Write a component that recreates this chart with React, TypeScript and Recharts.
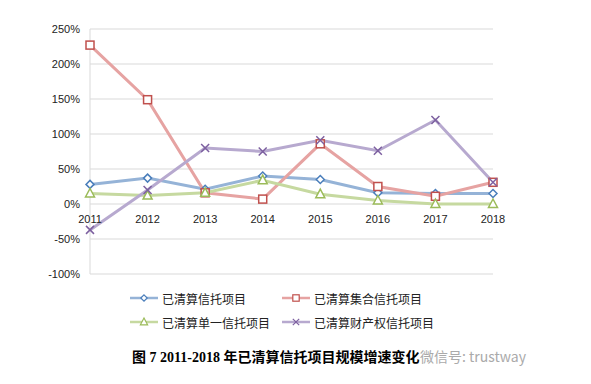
import React from "react";
import {
  LineChart,
  Line,
  XAxis,
  YAxis,
  CartesianGrid,
} from "recharts";

// 年份
const years = ["2011", "2012", "2013", "2014", "2015", "2016", "2017", "2018"];

// 增速（%）
const yiQingSuan = [28, 37, 21, 40, 35, 16, 15, 15];
const jiHe = [227, 149, 16, 7, 86, 25, 11, 31];
const danYi = [15, 12, 16, 34, 14, 5, 0, 0];
const caiChanQuan = [-37, 20, 80, 75, 91, 76, 120, 31];

const yTicks = [-100, -50, 0, 50, 100, 150, 200, 250];

const seriesNames = [
  "已清算信托项目",
  "已清算集合信托项目",
  "已清算单一信托项目",
  "已清算财产权信托项目",
];

const dados = years.map((year, i) => ({
  year,
  a: yiQingSuan[i],
  b: jiHe[i],
  c: danYi[i],
  d: caiChanQuan[i],
}));

type Shape = "diamond" | "square" | "triangle" | "cross";

const series: { key: string; name: string; line: string; mark: string; shape: Shape }[] = [
  { key: "a", name: seriesNames[0], line: "#95b3d7", mark: "#4a7ebb", shape: "diamond" },
  { key: "b", name: seriesNames[1], line: "#e6a3a2", mark: "#c0504d", shape: "square" },
  { key: "c", name: seriesNames[2], line: "#c6d9a0", mark: "#9bbb59", shape: "triangle" },
  { key: "d", name: seriesNames[3], line: "#b7a9cf", mark: "#7d60a0", shape: "cross" },
];

function Marker({ cx, cy, shape, color }: { cx: number; cy: number; shape: Shape; color: string }) {
  if (cx == null || cy == null) return null;
  const s = 4;
  if (shape === "diamond") {
    return (
      <path
        d={`M${cx},${cy - s} L${cx + s},${cy} L${cx},${cy + s} L${cx - s},${cy} Z`}
        fill="#fff"
        stroke={color}
        strokeWidth={1.5}
      />
    );
  }
  if (shape === "square") {
    return <rect x={cx - 4} y={cy - 4} width={8} height={8} fill="#fff" stroke={color} strokeWidth={1.5} />;
  }
  if (shape === "triangle") {
    return (
      <path
        d={`M${cx},${cy - 5} L${cx + 4.5},${cy + 3.5} L${cx - 4.5},${cy + 3.5} Z`}
        fill="#fff"
        stroke={color}
        strokeWidth={1.5}
      />
    );
  }
  return (
    <path
      d={`M${cx - 4},${cy - 4} L${cx + 4},${cy + 4} M${cx + 4},${cy - 4} L${cx - 4},${cy + 4}`}
      stroke={color}
      strokeWidth={1.5}
      fill="none"
    />
  );
}

function YearTick(props: any) {
  const { x, y, payload } = props;
  return (
    <text
      x={x}
      y={y - 51}
      textAnchor="middle"
      fontSize={11}
      fontFamily="'Liberation Sans', Arial, sans-serif"
      fill="#222"
    >
      {payload.value}
    </text>
  );
}

function LegendItem({ s }: { s: (typeof series)[number] }) {
  return (
    <div style={{ display: "flex", alignItems: "center", height: 16 }}>
      <svg width={28} height={12}>
        <line x1={0} x2={28} y1={6} y2={6} stroke={s.line} strokeWidth={2.5} />
        <g transform="translate(14,6) scale(0.8) translate(-14,-6)">
          <Marker cx={14} cy={6} shape={s.shape} color={s.mark} />
        </g>
      </svg>
      <span style={{ marginLeft: 4, fontSize: 12, color: "#222", whiteSpace: "nowrap" }}>{s.name}</span>
    </div>
  );
}

export default function App() {
  return (
    <div
      style={{
        position: "absolute",
        left: 0,
        top: 0,
        width: 591,
        height: 384,
        background: "#fff",
        fontFamily: "'Noto Sans CJK SC', sans-serif",
      }}
    >
      <LineChart
        width={591}
        height={290}
        data={dados}
        margin={{ top: 29, right: 98, left: 0, bottom: 15 }}
      >
        <CartesianGrid vertical={false} stroke="#d9d9d9" />
        <XAxis
          dataKey="year"
          axisLine={false}
          tickLine={false}
          tickSize={0}
          tickMargin={0}
          height={1}
          interval={0}
          tick={<YearTick />}
        />
        <YAxis
          width={90}
          domain={[-100, 250]}
          ticks={yTicks}
          interval={0}
          axisLine={{ stroke: "#d9d9d9" }}
          tickLine={false}
          tickSize={0}
          tickMargin={10}
          tickFormatter={(v: number) => `${v}%`}
          tick={{ fontSize: 11, fill: "#222", fontFamily: "'Liberation Sans', Arial, sans-serif" }}
        />
        {series.map((s) => (
          <Line
            key={s.key}
            dataKey={s.key}
            name={s.name}
            stroke={s.line}
            strokeWidth={3}
            isAnimationActive={false}
            dot={(p: any) => <Marker key={`${s.key}-${p.index}`} cx={p.cx} cy={p.cy} shape={s.shape} color={s.mark} />}
            activeDot={false}
          />
        ))}
      </LineChart>

      <div style={{ position: "absolute", left: 130, top: 290, display: "grid", gridTemplateColumns: "152px 200px", rowGap: 8 }}>
        <LegendItem s={series[0]} />
        <LegendItem s={series[1]} />
        <LegendItem s={series[2]} />
        <LegendItem s={series[3]} />
      </div>

      <div
        style={{
          position: "absolute",
          left: 132,
          top: 346,
          fontSize: 14,
          fontWeight: "bold",
          fontFamily: "'Liberation Serif', 'Noto Sans CJK SC', serif",
          color: "#000",
          whiteSpace: "nowrap",
        }}
      >
        图 7 2011-2018 年已清算信托项目规模增速变化
      </div>
      <div
        style={{
          position: "absolute",
          left: 420,
          top: 346,
          fontSize: 14,
          color: "#aaa",
          fontFamily: "'Noto Sans CJK SC', sans-serif",
          whiteSpace: "nowrap",
        }}
      >
        微信号: trustway
      </div>
    </div>
  );
}
